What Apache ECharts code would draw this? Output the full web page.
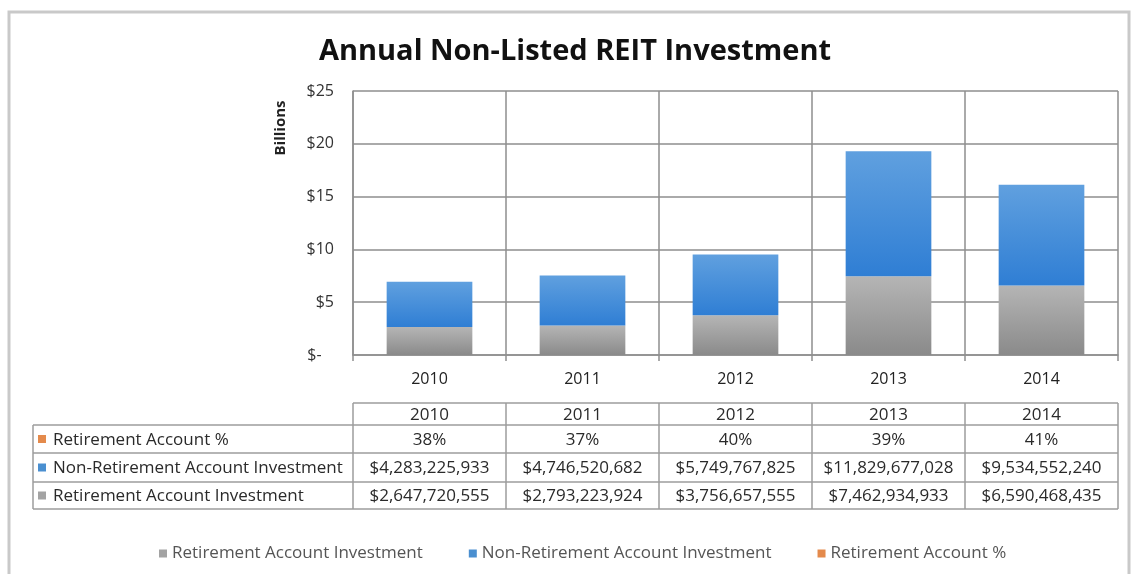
<!DOCTYPE html>
<html>
<head>
<meta charset="utf-8">
<title>Annual Non-Listed REIT Investment</title>
<script src="https://cdn.jsdelivr.net/npm/echarts@6/dist/echarts.min.js"></script>
<style>
  html, body { margin: 0; padding: 0; background: #ffffff; }
  #chart { width: 1133px; height: 574px; }
</style>
</head>
<body>
<div id="chart"></div>
<script>
// Yearly investment in non-listed REITs, split by account type (US dollars)
const categories = ['2010', '2011', '2012', '2013', '2014'];
const retirementInvestment = [2647720555, 2793223924, 3756657555, 7462934933, 6590468435];
const nonRetirementInvestment = [4283225933, 4746520682, 5749767825, 11829677028, 9534552240];
const retirementPct = [38, 37, 40, 39, 41];

// Value axis, in billions of dollars
const yMin = 0, yMax = 25, yInterval = 5;

const seriesNames = ['Retirement Account Investment', 'Non-Retirement Account Investment', 'Retirement Account %'];
const swatch = { gray: '#a3a3a3', blue: '#4a8fd0', orange: '#e48a4c' };

const FONT = '"Open Sans", "Noto Sans", sans-serif';
const GRID_COLOR = '#8e8e8e';
const TABLE_LINE = '#9c9c9c';

function toBillions(v) { return v / 1e9; }
function money(v) { return '$' + String(v).replace(/\B(?=(\d{3})+(?!\d))/g, ','); }

const grayFill = new echarts.graphic.LinearGradient(0, 0, 0, 1, [
  { offset: 0, color: '#b5b5b5' }, { offset: 1, color: '#8a8a8a' }
]);
const blueFill = new echarts.graphic.LinearGradient(0, 0, 0, 1, [
  { offset: 0, color: '#60a0df' }, { offset: 1, color: '#2f7ed4' }
]);

const chart = echarts.init(document.getElementById('chart'), null, { renderer: 'canvas' });

const option = {
  animation: false,
  backgroundColor: '#ffffff',
  title: {
    text: 'Annual Non-Listed REIT Investment',
    left: 570,
    textAlign: 'center',
    top: 32,
    textStyle: { fontFamily: FONT, fontWeight: 'bold', fontSize: 29, color: '#111' }
  },
  legend: {
    data: [
      { name: seriesNames[0], itemStyle: { color: swatch.gray } },
      { name: seriesNames[1], itemStyle: { color: swatch.blue } },
      { name: seriesNames[2], itemStyle: { color: swatch.orange } }
    ],
    left: 154,
    top: 540,
    icon: 'rect',
    itemWidth: 8,
    itemHeight: 8,
    itemGap: 46,
    textStyle: { fontFamily: FONT, fontSize: 17, color: '#555' }
  },
  grid: { left: 353, right: 15, top: 91, bottom: 219, containLabel: false },
  xAxis: {
    type: 'category',
    data: categories,
    boundaryGap: true,
    axisLine: { show: true, lineStyle: { color: GRID_COLOR, width: 1.5 } },
    axisTick: { show: true, length: 6, lineStyle: { color: GRID_COLOR, width: 1.5 } },
    splitLine: { show: true, lineStyle: { color: GRID_COLOR, width: 1.5 } },
    axisLabel: { fontFamily: FONT, fontSize: 16, color: '#222', margin: 16 }
  },
  yAxis: [
    {
      type: 'value',
      min: yMin,
      max: yMax,
      interval: yInterval,
      axisLine: { show: true, lineStyle: { color: GRID_COLOR, width: 1.5 } },
      axisTick: { show: false },
      splitLine: { show: true, lineStyle: { color: GRID_COLOR, width: 1.5 } },
      axisLabel: {
        fontFamily: FONT, fontSize: 16, color: '#333', margin: 19,
        formatter: v => (v === 0 ? '$-   ' : '$' + v)
      }
    },
    { type: 'value', min: 0, max: 100, show: false }
  ],
  series: [
    {
      name: seriesNames[0],
      type: 'bar',
      stack: 'total',
      barWidth: '56%',
      data: retirementInvestment.map(toBillions),
      itemStyle: { color: grayFill }
    },
    {
      name: seriesNames[1],
      type: 'bar',
      stack: 'total',
      barWidth: '56%',
      data: nonRetirementInvestment.map(toBillions),
      itemStyle: { color: blueFill }
    },
    {
      // Share of the total that came from retirement accounts; listed in the table only
      name: seriesNames[2],
      type: 'line',
      yAxisIndex: 1,
      data: retirementPct,
      showSymbol: false,
      symbol: 'none',
      silent: true,
      itemStyle: { color: swatch.orange },
      lineStyle: { opacity: 0 }
    }
  ]
};

chart.setOption(option);

// Data table under the plot: its columns follow the category bands of the x axis
const centers = categories.map(c => chart.convertToPixel({ xAxisIndex: 0 }, c));
const band = centers[1] - centers[0];
const colEdges = centers.map(c => c - band / 2).concat([centers[centers.length - 1] + band / 2]);
const tableLeft = 33;
const rowEdges = [403, 425, 453, 482, 509];

const rows = [
  { label: seriesNames[2], color: swatch.orange, values: retirementPct.map(p => p + '%') },
  { label: seriesNames[1], color: swatch.blue, values: nonRetirementInvestment.map(money) },
  { label: seriesNames[0], color: swatch.gray, values: retirementInvestment.map(money) }
];

const elements = [];
const line = (x1, y1, x2, y2) => elements.push({
  type: 'line', silent: true,
  shape: { x1, y1, x2, y2 },
  style: { stroke: TABLE_LINE, lineWidth: 1.5 }
});
const cellText = (x, y, text, align) => elements.push({
  type: 'text', silent: true,
  x, y,
  style: {
    text, fill: '#2a2a2a', font: '17px ' + FONT,
    align: align || 'center', verticalAlign: 'middle'
  }
});

// header row with the years
line(colEdges[0], rowEdges[0], colEdges[colEdges.length - 1], rowEdges[0]);
categories.forEach((c, i) => cellText(centers[i], (rowEdges[0] + rowEdges[1]) / 2 + 1, c));

// body rows
for (let r = 1; r < rowEdges.length; r++) {
  line(tableLeft, rowEdges[r], colEdges[colEdges.length - 1], rowEdges[r]);
}
line(tableLeft, rowEdges[1], tableLeft, rowEdges[rowEdges.length - 1]);
colEdges.forEach(x => line(x, rowEdges[0], x, rowEdges[rowEdges.length - 1]));

rows.forEach((row, r) => {
  const yMid = (rowEdges[r + 1] + rowEdges[r + 2]) / 2 + 1;
  elements.push({
    type: 'rect', silent: true,
    shape: { x: tableLeft + 5, y: yMid - 5, width: 8, height: 8 },
    style: { fill: row.color }
  });
  cellText(tableLeft + 20, yMid, row.label, 'left');
  row.values.forEach((v, i) => cellText(centers[i], yMid, v));
});

// "Billions" unit label beside the value axis
elements.push({
  type: 'text', silent: true,
  x: 281, y: 128, rotation: Math.PI / 2,
  style: {
    text: 'Billions', fill: '#222', font: 'bold 15px ' + FONT,
    align: 'center', verticalAlign: 'middle'
  }
});

// Outer frame
elements.push({
  type: 'rect', silent: true,
  shape: { x: 9, y: 12, width: 1120, height: 600 },
  style: { fill: 'none', stroke: '#c9c9c9', lineWidth: 3 }
});

chart.setOption({ graphic: { elements } });
</script>
</body>
</html>
